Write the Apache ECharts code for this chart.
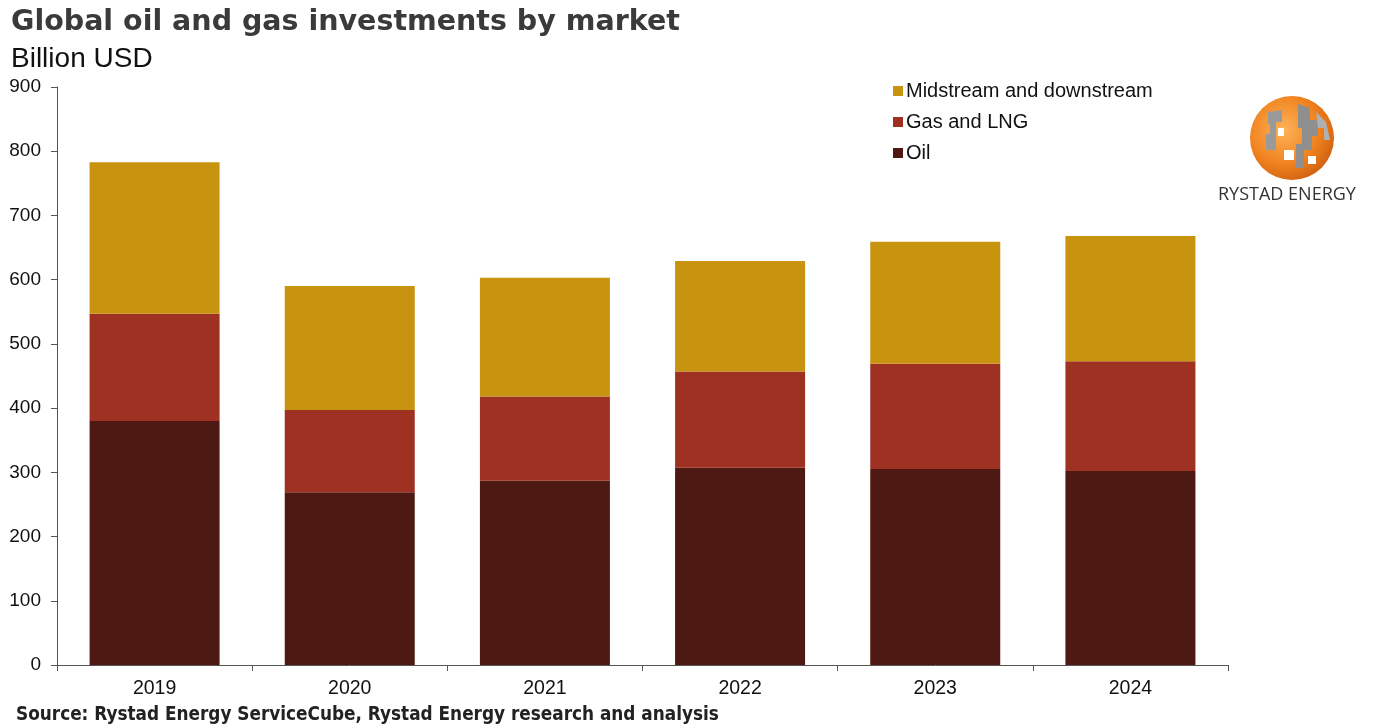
<!DOCTYPE html>
<html>
<head>
<meta charset="utf-8">
<script src="https://cdn.jsdelivr.net/npm/echarts@6/dist/echarts.min.js"></script>
<style>html,body{margin:0;padding:0;background:#fff}#c{width:1375px;height:727px}</style>
</head>
<body>
<div id="c"></div>
<script>
const years = ['2019', '2020', '2021', '2022', '2023', '2024'];
const oil = [380, 269, 287, 307, 305, 302];
const gasLng = [167, 128, 131, 150, 164, 171];
const midDown = [236, 193, 185, 172, 190, 195];
const seriesNames = ['Oil', 'Gas and LNG', 'Midstream and downstream'];
const colors = ['#4E1913', '#9E3122', '#C8930F'];

const chart = echarts.init(document.getElementById('c'));
const mk = (name, data, color) => ({
  name, type: 'bar', stack: 'total', data, barWidth: 130,
  itemStyle: { color }, emphasis: { disabled: true }
});
chart.setOption({
  animation: false,
  backgroundColor: '#fff',
  title: [
    { text: 'Global oil and gas investments by market', left: 6, top: 3,
      textStyle: { fontFamily: 'DejaVu Sans', fontWeight: 'bold', fontSize: 28.5, color: '#3a3a3a' } },
    { text: 'Billion USD', left: 6, top: 40,
      textStyle: { fontFamily: 'Liberation Sans', fontWeight: 'normal', fontSize: 28, color: '#111' } },
    { text: 'Source: Rystad Energy ServiceCube, Rystad Energy research and analysis', left: 11, top: 701,
      textStyle: { fontFamily: 'DejaVu Sans Condensed', fontWeight: 'bold', fontSize: 18.8, color: '#222' } }
  ],
  legend: {
    data: [seriesNames[2], seriesNames[1], seriesNames[0]],
    orient: 'vertical', left: 888, top: 76, itemWidth: 10, itemHeight: 10, itemGap: 11,
    icon: 'rect',
    textStyle: { fontFamily: 'Liberation Sans', fontSize: 20, color: '#111', padding: [0, 0, 0, -2] }
  },
  grid: { left: 57, right: 147, top: 87, bottom: 62, containLabel: false },
  xAxis: {
    type: 'category', data: years,
    axisLine: { lineStyle: { color: '#555', width: 1 } },
    axisTick: { show: true, length: 6, lineStyle: { color: '#555' } },
    axisLabel: { fontFamily: 'Liberation Sans', fontSize: 19.5, color: '#111', margin: 14 }
  },
  yAxis: {
    type: 'value', min: 0, max: 900, interval: 100,
    axisLine: { show: true, lineStyle: { color: '#555', width: 1 } },
    axisTick: { show: true, length: 6, lineStyle: { color: '#555' } },
    splitLine: { show: false },
    axisLabel: { fontFamily: 'Liberation Sans', fontSize: 19, color: '#111', margin: 16 }
  },
  series: [
    mk(seriesNames[0], oil, colors[0]),
    mk(seriesNames[1], gasLng, colors[1]),
    mk(seriesNames[2], midDown, colors[2])
  ],
  graphic: [
    { type: 'circle', shape: { cx: 1292, cy: 138, r: 42 },
      style: { fill: { type: 'radial', x: 0.4, y: 0.4, r: 0.7,
        colorStops: [{ offset: 0, color: '#FDB35A' }, { offset: 0.6, color: '#F0821E' }, { offset: 1, color: '#C85A10' }] } } },
    { type: 'polygon', shape: { points: [[1268,112],[1282,110],[1282,122],[1276,122],[1276,150],[1266,150],[1266,134],[1270,134],[1270,124],[1268,124]] },
      style: { fill: '#9a9a9a' } },
    { type: 'polygon', shape: { points: [[1298,104],[1310,108],[1310,120],[1318,120],[1318,136],[1312,136],[1312,150],[1304,150],[1304,168],[1296,168],[1296,144],[1302,144],[1302,128],[1298,128]] },
      style: { fill: '#8f8f8f' } },
    { type: 'polygon', shape: { points: [[1316,112],[1326,122],[1330,140],[1324,140],[1324,128],[1318,128]] },
      style: { fill: '#b0b0b0' } },
    { type: 'rect', shape: { x: 1284, y: 150, width: 10, height: 10 }, style: { fill: '#ffffff' } },
    { type: 'rect', shape: { x: 1278, y: 128, width: 6, height: 8 }, style: { fill: '#ffffff' } },
    { type: 'rect', shape: { x: 1308, y: 156, width: 8, height: 8 }, style: { fill: '#ffffff' } },
    { type: 'text', left: 1218, top: 186,
      style: { text: 'RYSTAD ENERGY', fontFamily: 'Open Sans', fontSize: 18, fill: '#333' } }
  ]
});
</script>
</body>
</html>
